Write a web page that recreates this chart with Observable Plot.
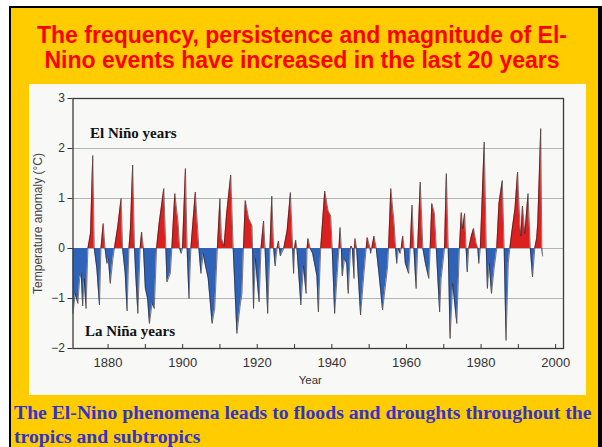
<!DOCTYPE html>
<html><head><meta charset="utf-8">
<script src="https://cdn.jsdelivr.net/npm/d3@7"></script>
<script src="https://cdn.jsdelivr.net/npm/@observablehq/plot@0.6"></script>
<style>
html,body{margin:0;padding:0;background:#fff;width:602px;height:447px;overflow:hidden;}
#panel{position:absolute;left:9px;top:6px;width:593px;height:450px;box-sizing:border-box;background:#FFCC00;border-left:2px solid #000;border-top:2px solid #000;border-right:4px solid #000;}
#title{position:absolute;left:0;top:23px;width:604px;text-align:center;font-family:"Liberation Sans",Arial,sans-serif;font-weight:bold;font-size:23px;line-height:25px;color:#FF0000;white-space:nowrap;}
#chartbox{position:absolute;left:28.5px;top:84px;width:557px;height:311px;background:#f8f8f6;}
#note{position:absolute;left:14px;top:400px;font-family:"Liberation Serif","Times New Roman",serif;font-weight:bold;font-size:19.7px;line-height:24px;color:#3333CC;white-space:nowrap;}
</style></head>
<body>
<div id="panel"></div>
<div id="title">The frequency, persistence and magnitude of El-<br>Nino events have increased in the last 20 years</div>
<div id="chartbox"></div>
<div id="note">The El-Nino phenomena leads to floods and droughts throughout the<br>tropics and subtropics</div>
<script>
const years = [1870.6,1871.2,1871.9,1872.4,1872.8,1873.2,1873.6,1874.1,1874.6,1875.3,1875.9,1876.3,1877.0,1877.7,1878.1,1878.7,1879.2,1879.7,1880.1,1880.6,1881.3,1881.7,1882.6,1883.5,1883.9,1884.6,1885.1,1885.6,1886.0,1886.6,1887.1,1887.4,1888.0,1888.6,1889.0,1889.5,1890.0,1890.6,1891.1,1891.8,1892.4,1893.0,1893.7,1894.95,1895.5,1895.8,1896.7,1897.1,1897.9,1898.8,1899.2,1899.6,1899.95,1900.75,1901.2,1901.7,1902.2,1903.4,1904.35,1904.9,1905.5,1906.0,1906.85,1907.9,1908.6,1909.3,1910.0,1910.4,1911.1,1911.8,1912.9,1913.55,1914.55,1915.4,1915.9,1916.3,1916.8,1917.7,1918.6,1918.75,1919.0,1919.5,1920.5,1921.0,1921.7,1922.1,1922.8,1923.4,1923.9,1924.4,1924.8,1925.3,1925.7,1926.2,1927.1,1928.0,1928.9,1929.5,1929.75,1930.0,1930.3,1930.65,1931.7,1932.4,1933.1,1933.35,1933.6,1934.2,1934.85,1936.0,1936.4,1937.0,1938.1,1939.0,1939.7,1940.1,1940.75,1941.5,1941.9,1942.2,1942.55,1942.8,1943.4,1944.0,1944.4,1945.0,1945.2,1945.5,1945.95,1946.1,1946.2,1946.65,1947.0,1947.7,1948.6,1949.2,1949.5,1950.25,1950.4,1950.7,1951.3,1951.9,1952.7,1953.6,1954.9,1955.2,1955.8,1956.7,1957.1,1957.4,1957.85,1958.3,1958.6,1959.0,1959.4,1959.7,1960.6,1961.0,1961.5,1962.0,1962.6,1963.0,1963.7,1964.4,1965.1,1966.0,1966.35,1966.8,1967.5,1968.0,1968.9,1969.3,1970.2,1970.7,1971.2,1971.7,1972.4,1973.5,1974.2,1974.7,1975.1,1975.6,1976.0,1976.3,1976.7,1977.4,1978.0,1978.7,1979.15,1979.4,1979.8,1980.85,1981.4,1981.7,1982.2,1982.8,1983.5,1984.2,1984.8,1985.7,1986.2,1986.7,1987.3,1987.7,1988.2,1989.1,1989.8,1990.4,1990.7,1991.1,1991.75,1992.6,1993.2,1993.8,1994.4,1994.9,1995.2,1996.0,1996.3,1996.5];
const anomaly = [-1.3,-0.9,-1.1,-0.6,-0.5,-1.15,-0.6,-1.2,0,0.3,1.86,0,-0.4,-1.13,0,0.5,0,-0.3,-0.2,-0.7,-0.2,0,0.43,1.0,0,-0.5,-1.25,0,0.4,1.67,0,-0.5,-1.3,0,0.33,0,-0.8,-1.0,-1.5,-1.1,-1.2,0,0.5,1.2,0,-0.67,-0.5,0,1.1,0.5,0,-0.1,0,1.6,0,-1.0,0,1.13,0,-0.5,-0.1,-0.3,-0.6,-1.5,-1.2,0,1.0,0.2,0.05,0.7,1.47,0,-1.7,-1.15,-0.9,0,0.96,0.6,0.45,0,-1.2,-0.2,-1.07,0,0.55,0,-1.3,0,1.05,0,-0.35,0,0.15,-0.15,0,0.35,1.12,0,-0.5,0,0.17,0,-1.13,-0.35,-0.9,0,0.2,0,-0.1,-0.55,-1.27,0,1.15,0.75,0.65,0,-1.3,-0.45,0,0.42,0,-0.55,-0.2,-0.3,-0.9,0,0.05,0,-0.6,0,0.2,0,-0.45,-1.33,-0.5,0,0.22,0,-0.1,0,0.25,0,-0.55,-1.23,-0.4,0,1.2,0.5,0,-0.3,0,-0.1,0,0.25,0,-0.3,-0.5,0,0.87,0,-0.8,0,1.33,0,-0.3,-0.6,0,0.9,0.7,0,-1.27,-0.6,0,1.5,0,-1.8,-0.7,-1.5,0,0.72,0.4,0.7,0,-0.47,0,0.25,0.4,0.1,0,-0.3,0,2.13,0,-0.8,-0.3,-0.9,-0.4,0,0.9,1.36,0,-1.84,-0.3,0,0.3,0.8,1.53,0.5,0.25,0.85,0.3,1.1,0,-0.57,0,0.2,0.5,2.4,0,-0.15];
const yTicks = [-2,-1,0,1,2,3];
const gridValues = [-1,0,1,2];
const xLabelYears = [1880,1900,1920,1940,1960,1980,2000];
const decadeTicks = [1880,1890,1900,1910,1920,1930,1940,1950,1960,1970,1980,1990,2000];
const yTitle = "Temperature anomaly (°C)";
const xTitle = "Year";
const elNinoLabel = "El Niño years";
const laNinaLabel = "La Niña years";

// build series, inserting exact zero crossings so the red/blue fills meet cleanly
const series = [];
for (let i = 0; i < years.length; i++) {
  if (i > 0) {
    const a = anomaly[i-1], b = anomaly[i];
    if (a * b < 0) {
      const t = a / (a - b);
      series.push({year: years[i-1] + t * (years[i] - years[i-1]), v: 0});
    }
  }
  series.push({year: years[i], v: anomaly[i]});
}

const serif = "'Liberation Serif','Times New Roman',serif";
const chart = Plot.plot({
  width: 557,
  height: 311,
  marginLeft: 43.5,
  marginRight: 23,
  marginTop: 14,
  marginBottom: 47,
  style: {background: "transparent", color: "#333", fontFamily: "'Liberation Sans',Arial,sans-serif", overflow: "visible"},
  x: {domain: [1870.6, 2002.1]},
  y: {domain: [-2, 3]},
  marks: [
    Plot.ruleY(gridValues, {stroke: "#b4b4b4", strokeWidth: 1}),
    Plot.areaY(series, {x: "year", y1: 0, y2: d => Math.max(0, d.v), fill: "#dc1f1f"}),
    Plot.areaY(series, {x: "year", y1: 0, y2: d => Math.min(0, d.v), fill: "#2f63b9"}),
    Plot.lineY(series, {x: "year", y: "v", stroke: "#2a2020", strokeWidth: 0.7, strokeOpacity: 0.85}),
    Plot.ruleX(decadeTicks, {y1: -2, y2: -1.92, stroke: "#333"}),
    Plot.frame({stroke: "#3a3a3a", strokeWidth: 1.3}),
    Plot.axisY({ticks: yTicks, tickSize: 5, tickPadding: 3, fontSize: 12, label: null, tickFormat: d => d < 0 ? "\u2212" + Math.abs(d) : String(d)}),
    Plot.axisX({ticks: xLabelYears, tickSize: 0, tickPadding: 9, fontSize: 13, tickFormat: d => String(d), label: null}),
    Plot.text([yTitle], {frameAnchor: "left", dx: -35, rotate: -90, textAnchor: "middle", fontSize: 12, fill: "#444"}),
    Plot.text([xTitle], {frameAnchor: "bottom", dx: -8, dy: 35, fontSize: 11.5, fill: "#333"}),
    Plot.text([elNinoLabel], {frameAnchor: "top-left", dx: 17, dy: 29, textAnchor: "start", fontFamily: serif, fontWeight: "bold", fontSize: 15, fill: "#111"}),
    Plot.text([laNinaLabel], {frameAnchor: "bottom-left", dx: 12, dy: -13, textAnchor: "start", fontFamily: serif, fontWeight: "bold", fontSize: 15, fill: "#111"})
  ]
});
document.getElementById("chartbox").appendChild(chart);
</script>
</body></html>
